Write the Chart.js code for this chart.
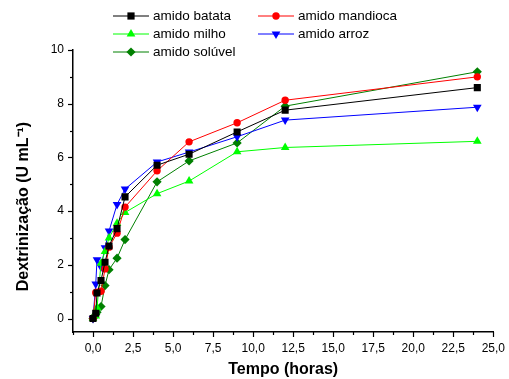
<!DOCTYPE html>
<html>
<head>
<meta charset="utf-8">
<script src="https://cdn.jsdelivr.net/npm/chart.js@4.4.1/dist/chart.umd.min.js"></script>
<style>
body{margin:0;background:#fff;}
#wrap{position:relative;width:509px;height:379px;}
#legend{position:absolute;left:0;top:0;font-family:"Liberation Sans",Arial,sans-serif;font-size:13.5px;color:#000;}
.item{position:absolute;height:18px;line-height:18px;white-space:nowrap;}
.item svg{vertical-align:middle;margin-right:4px;}
</style>
</head>
<body>
<div id="wrap">
<canvas id="lineChart" width="509" height="379"></canvas>
<div id="legend"></div>
</div>
<script>
// tempo em horas
const times=[0,0.17,0.25,0.5,0.75,1,1.5,2,4,6,9,12,24];
const batata=[0,0.2,0.95,1.42,2.1,2.7,3.35,4.53,5.71,6.12,6.95,7.76,8.6];
const mandioca=[0,0.96,0.98,1.02,1.85,2.66,3.18,4.15,5.5,6.58,7.29,8.13,9.0];
const milho=[0,0.1,0.4,2.06,2.5,3.0,3.55,3.95,4.65,5.12,6.21,6.37,6.6];
const arroz=[0,1.29,2.19,1.92,2.64,3.26,4.25,4.82,5.83,6.2,6.77,7.39,7.87];
const soluvel=[0,0.15,0.24,0.45,1.23,1.82,2.25,2.94,5.09,5.87,6.54,7.91,9.19];
const seriesNames=['amido batata','amido mandioca','amido milho','amido arroz','amido solúvel'];
const xTicks=[0,2.5,5,7.5,10,12.5,15,17.5,20,22.5,25];
const yTicks=[0,2,4,6,8,10];

function pts(ys){return times.map((t,i)=>({x:t,y:ys[i]}));}

const styles=[
    {color:'#000000',shape:'rect',r:5,rot:0},
    {color:'#ff0000',shape:'circle',r:3.7,rot:0},
    {color:'#00ff00',shape:'triangle',r:5,rot:0},
    {color:'#0000ff',shape:'triangle',r:5,rot:180},
    {color:'#008000',shape:'rectRot',r:4.6,rot:0}
];
const allData=[batata,mandioca,milho,arroz,soluvel];

const datasets=allData.map((d,i)=>({
    label:seriesNames[i],
    data:pts(d),
    borderColor:styles[i].color,
    backgroundColor:styles[i].color,
    borderWidth:1,
    pointStyle:styles[i].shape,
    pointRadius:styles[i].r,
    pointRotation:styles[i].rot,
    pointBorderWidth:0,
    tension:0
}));

const near=(a,b)=>Math.abs(a-b)<1e-6;

// ticks menores e maiores desenhados para fora
const tickPlugin={
    id:'ticks',
    afterDraw(chart){
        const c=chart.ctx, xs=chart.scales.x, ys=chart.scales.y;
        c.save();
        c.strokeStyle='#000';
        c.lineWidth=1.2;
        const bottom=xs.top, left=ys.right;
        for(let v=-1.25;v<=25.001;v+=1.25){
            const px=Math.round(xs.getPixelForValue(v))+0.5;
            const major=xTicks.some(t=>near(t,v));
            c.beginPath();c.moveTo(px,bottom);c.lineTo(px,bottom+(major?5:3));c.stroke();
        }
        for(let v=0;v<=10;v+=1){
            const py=Math.round(ys.getPixelForValue(v))+0.5;
            const major=yTicks.includes(v);
            c.beginPath();c.moveTo(left,py);c.lineTo(left-(major?5:3),py);c.stroke();
        }
        c.restore();
    }
};

const ctx=document.getElementById('lineChart').getContext('2d');
const lineChart=new Chart(ctx,{
    type:'line',
    data:{datasets:datasets},
    options:{
        responsive:false,
        animation:false,
        layout:{padding:{left:0,top:50,right:13,bottom:0}},
        plugins:{legend:{display:false},tooltip:{enabled:false}},
        scales:{
            x:{
                type:'linear',
                min:-1.25,max:25,
                border:{color:'#000',width:1.5},
                grid:{drawOnChartArea:false,tickLength:5,tickColor:'rgba(0,0,0,0)'},
                ticks:{
                    stepSize:1.25,autoSkip:false,maxRotation:0,color:'#000',
                    font:{family:'Liberation Sans',size:12},padding:4,
                    callback:v=>xTicks.some(t=>near(t,v))?v.toFixed(1).replace('.',','):''
                },
                title:{display:true,text:'Tempo (horas)',color:'#000',
                    font:{family:'Liberation Sans',size:16,weight:'bold'},padding:{top:8,bottom:0}},
                afterFit(s){s.height=47;}
            },
            y:{
                min:-0.5,max:10,
                border:{color:'#000',width:1.5},
                grid:{drawOnChartArea:false,tickLength:5,tickColor:'rgba(0,0,0,0)'},
                ticks:{
                    autoSkip:false,color:'#000',
                    font:{family:'Liberation Sans',size:12},padding:4,
                    callback:v=>String(v)
                },
                afterBuildTicks(s){s.ticks=yTicks.map(v=>({value:v}));},
                // espacos no fim deslocam o titulo um pouco para baixo
                title:{display:true,text:'Dextrinização (U mL⁻¹)\u00a0\u00a0\u00a0\u00a0\u00a0\u00a0\u00a0',color:'#000',
                    font:{family:'Liberation Sans',size:16,weight:'bold'},padding:{top:14,bottom:4}},
                afterFit(s){s.width=73;}
            }
        }
    },
    plugins:[tickPlugin]
});

// legenda em html, 2 colunas
const legendPos=[[113,7],[258,7],[113,25],[258,25],[113,43]];
function markerSvg(st){
    let m='';
    const cx=18,cy=6,r=st.r;
    if(st.shape==='rect'){const s=r*0.72;m=`<rect x="${cx-s}" y="${cy-s}" width="${2*s}" height="${2*s}" fill="${st.color}"/>`;}
    else if(st.shape==='circle'){m=`<circle cx="${cx}" cy="${cy}" r="${r}" fill="${st.color}"/>`;}
    else if(st.shape==='triangle'&&st.rot===0){m=`<polygon points="${cx},${cy-r} ${cx+r*0.87},${cy+r*0.5} ${cx-r*0.87},${cy+r*0.5}" fill="${st.color}"/>`;}
    else if(st.shape==='triangle'){m=`<polygon points="${cx},${cy+r} ${cx+r*0.87},${cy-r*0.5} ${cx-r*0.87},${cy-r*0.5}" fill="${st.color}"/>`;}
    else {m=`<polygon points="${cx},${cy-r} ${cx+r},${cy} ${cx},${cy+r} ${cx-r},${cy}" fill="${st.color}"/>`;}
    return `<svg width="36" height="12"><line x1="0" y1="6" x2="36" y2="6" stroke="${st.color}" stroke-width="1"/>${m}</svg>`;
}
const legend=document.getElementById('legend');
lineChart.data.datasets.forEach((ds,i)=>{
    const el=document.createElement('div');
    el.className='item';
    el.style.left=legendPos[i][0]+'px';
    el.style.top=legendPos[i][1]+'px';
    el.innerHTML=markerSvg(styles[i])+'<span>'+ds.label+'</span>';
    legend.appendChild(el);
});
</script>
</body>
</html>
